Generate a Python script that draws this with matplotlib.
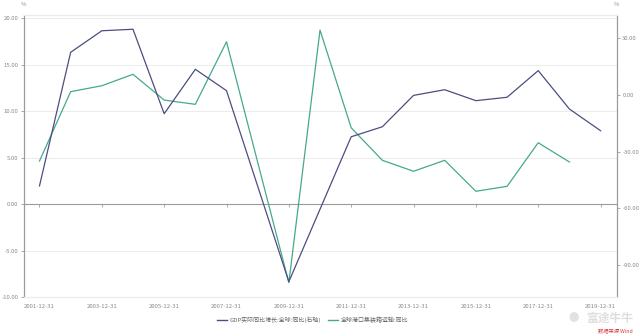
import matplotlib
matplotlib.use("Agg")
import matplotlib.pyplot as plt
from matplotlib.lines import Line2D

plt.rcParams['font.family'] = ['Noto Sans CJK SC', 'DejaVu Sans']
plt.rcParams['axes.unicode_minus'] = False

# yearly values, year-end dates
gdp_years = [2001, 2002, 2003, 2004, 2005, 2006, 2007, 2009, 2011, 2012,
             2013, 2014, 2015, 2016, 2017, 2018, 2019]
gdp_values = [-48.1, 22.6, 34.0, 34.8, -9.9, 13.6, 2.3, -98.8, -22.1, -16.8,
              -0.2, 2.8, -3.0, -1.2, 12.9, -7.4, -18.9]

port_years = [2001, 2002, 2003, 2004, 2005, 2006, 2007, 2009, 2010, 2011,
              2012, 2013, 2014, 2015, 2016, 2017, 2018]
port_values = [4.62, 12.08, 12.72, 13.95, 11.18, 10.72, 17.45, -8.46, 18.71, 8.2,
               4.7, 3.52, 4.7, 1.37, 1.9, 6.59, 4.52]

tick_years = list(range(2001, 2020, 2))
left_ticks = [20, 15, 10, 5, 0, -5, -10]
right_ticks = [30, 0, -30, -60, -90]

gdp_name = "GDP实际同比增长:全球:同比(右轴)"
port_name = "全球港口集装箱运输:同比"

c_gdp = "#4b4e80"
c_port = "#46a98c"
c_axis = "#9a9a9a"
c_grid = "#ebebeb"
c_text = "#8a8a8a"

fig = plt.figure(figsize=(6.4, 3.36), dpi=100)
ax = fig.add_axes([0.037, 0.1161, 0.9267, 0.8407])
ax2 = ax.twinx()

ax.set_xlim(2001 - 0.507, 2019 + 0.52)
ax.set_ylim(-10, 20.38)
ax2.set_ylim(-106.9, 42.6)

# grid on the left scale, zero line drawn darker
for v in left_ticks:
    if v not in (0, -10):
        ax.axhline(v, color=c_grid, lw=0.7, zorder=0)
ax.axhline(0, color=c_axis, lw=0.8, zorder=1)
ax.plot(tick_years, [0] * len(tick_years), ls='none', marker=3,
        markersize=2, color=c_axis, markeredgewidth=0.6, zorder=1)

ax.plot(port_years, port_values, color=c_port, lw=0.9, zorder=3)
ax2.plot(gdp_years, gdp_values, color=c_gdp, lw=0.9, zorder=3)

ax.set_xticks(tick_years)
ax.set_xticklabels([f"{y}-12-31" for y in tick_years])
ax.tick_params(axis='x', length=0, pad=5, labelsize=4.3, labelcolor=c_text)

ax.set_yticks(left_ticks)
ax.set_yticklabels([f"{v:.2f}" for v in left_ticks])
ax.tick_params(axis='y', length=2.5, width=0.6, color=c_axis, pad=1.5,
               labelsize=4.3, labelcolor=c_text)

ax2.set_yticks(right_ticks)
ax2.set_yticklabels([f"{v:.2f}" for v in right_ticks])
ax2.tick_params(axis='y', length=2.5, width=0.6, color=c_axis, pad=1.5,
                labelsize=4.3, labelcolor=c_text)

for a in (ax, ax2):
    a.spines['top'].set_color(c_grid)
    a.spines['bottom'].set_color(c_grid)
    a.spines['left'].set_color(c_axis)
    a.spines['right'].set_color(c_axis)
    for s in a.spines.values():
        s.set_linewidth(0.8)

fig.text(23.5 / 640, 1 - 5 / 336, "%", fontsize=4.3, color=c_text,
         ha='center', va='center')
fig.text(616.5 / 640, 1 - 5 / 336, "%", fontsize=4.3, color=c_text,
         ha='center', va='center')

handles = [Line2D([], [], color=c_gdp, lw=1.0),
           Line2D([], [], color=c_port, lw=1.0)]
fig.legend(handles, [gdp_name, port_name], loc='center',
           bbox_to_anchor=(313 / 640, 1 - 320 / 336), ncol=2, frameon=False,
           fontsize=4.3, handlelength=1.6, handletextpad=0.5,
           columnspacing=1.2, labelcolor="#666666")

# watermark and source
fig.text(586 / 640, 1 - 318 / 336, "富途牛牛", fontsize=8.5, color="#dedede",
         ha='left', va='center', fontweight='bold')
fig.text(574 / 640, 1 - 318 / 336, "●", fontsize=7.5, color="#e2e2e2",
         ha='center', va='center')
fig.text(633 / 640, 1 - 331 / 336, "数据来源 Wind", fontsize=3.8,
         color="#d9363e", ha='right', va='center', style='italic')

fig.savefig("out.png", dpi=100)
